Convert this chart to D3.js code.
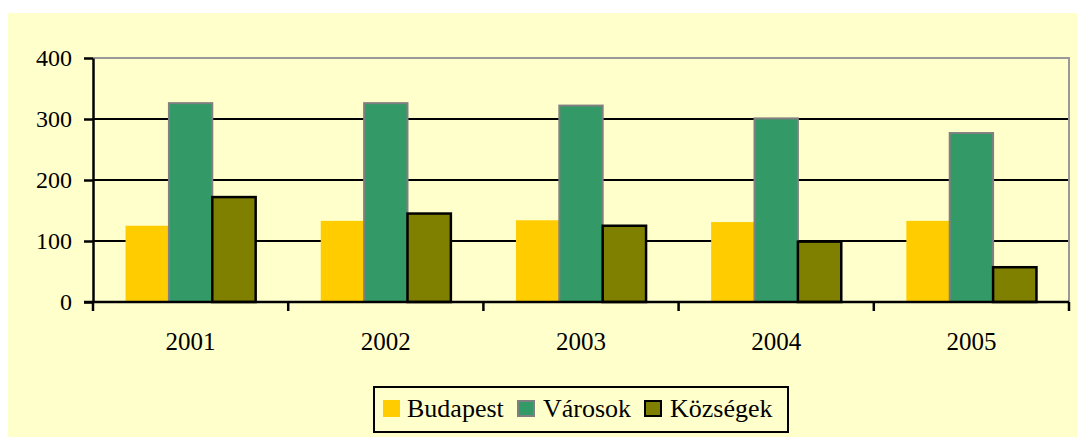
<!DOCTYPE html>
<html>
<head>
<meta charset="utf-8">
<script src="https://cdn.jsdelivr.net/npm/d3@7"></script>
<style>
  body { margin: 0; background: #fff; }
  svg { display: block; }
  svg text { font-family: "Liberation Serif", "Times New Roman", "DejaVu Serif", serif; fill: #000; }
</style>
</head>
<body>
<div id="chart"></div>
<script>
const years = ["2001", "2002", "2003", "2004", "2005"];
const seriesNames = ["Budapest", "Városok", "Községek"];
const budapest = [125, 133, 134, 131, 133];
const varosok = [326, 326, 322, 301, 277];
const kozsegek = [172, 145, 125, 99, 57];
const yTicks = [0, 100, 200, 300, 400];

const colors = ["#FFCC00", "#339966", "#808000"];
const strokes = ["none", "#808080", "#000000"];
const values = [budapest, varosok, kozsegek];
const serif = "Liberation Serif, Times New Roman, serif";

const width = 1077, height = 437;
const plot = { left: 93, right: 1069, top: 58, bottom: 302 };

const svg = d3.select("#chart").append("svg")
  .attr("width", width)
  .attr("height", height);

svg.append("rect")
  .attr("x", 8).attr("y", 13)
  .attr("width", width - 8).attr("height", height - 13)
  .attr("fill", "#FFFFCC");

const x = d3.scaleBand()
  .domain(years)
  .range([plot.left, plot.right])
  .paddingInner(0)
  .paddingOuter(0);

// bars fill 2/3 of each category, gap of half a bar's width... 0.75 bar each side
const xs = d3.scaleBand()
  .domain(seriesNames)
  .range([0, x.bandwidth()])
  .paddingInner(0)
  .paddingOuter(0.75);

const y = d3.scaleLinear()
  .domain([0, 400])
  .range([plot.bottom, plot.top]);

// gridlines
svg.append("g")
  .selectAll("line")
  .data(yTicks.filter(d => d > 0 && d < 400))
  .enter().append("line")
  .attr("x1", plot.left).attr("x2", plot.right)
  .attr("y1", d => y(d)).attr("y2", d => y(d))
  .attr("stroke", "#000").attr("stroke-width", 2);

// plot frame top/right (gray)
svg.append("path")
  .attr("d", `M${plot.left},${y(400)}H${plot.right}V${plot.bottom}`)
  .attr("fill", "none")
  .attr("stroke", "#999999")
  .attr("stroke-width", 2);

// bars
const groups = svg.append("g")
  .selectAll("g")
  .data(years)
  .enter().append("g")
  .attr("transform", d => "translate(" + x(d) + ",0)");

groups.selectAll("rect")
  .data((d, i) => seriesNames.map((s, j) => ({ s: s, j: j, v: values[j][i] })))
  .enter().append("rect")
  .attr("x", d => xs(d.s))
  .attr("y", d => y(d.v))
  .attr("width", xs.bandwidth())
  .attr("height", d => y(0) - y(d.v))
  .attr("fill", d => colors[d.j])
  .attr("stroke", d => strokes[d.j])
  .attr("stroke-width", d => d.j === 2 ? 2.5 : 2);

// y axis
const yAxis = svg.append("g")
  .attr("transform", "translate(" + plot.left + ",0)")
  .call(d3.axisLeft(y).tickValues(yTicks).tickSize(9).tickPadding(12).tickSizeOuter(0));
yAxis.attr("font-family", serif).attr("font-size", 24);
yAxis.select(".domain").attr("stroke", "#000").attr("stroke-width", 2.5);
yAxis.selectAll(".tick line").attr("stroke", "#000").attr("stroke-width", 2.5);
yAxis.selectAll("text")
  .attr("fill", "#000")
  .attr("dy", "0.3em")
  .style("font-size", "24px");

// x axis
svg.append("line")
  .attr("x1", plot.left - 9).attr("x2", plot.right)
  .attr("y1", y(0)).attr("y2", y(0))
  .attr("stroke", "#000").attr("stroke-width", 2.5);

svg.append("g")
  .selectAll("line")
  .data(years.map(d => x(d)).concat([x.range()[1]]))
  .enter().append("line")
  .attr("x1", d => d).attr("x2", d => d)
  .attr("y1", y(0)).attr("y2", y(0) + 9)
  .attr("stroke", "#000").attr("stroke-width", 2.5);

svg.append("g")
  .selectAll("text")
  .data(years)
  .enter().append("text")
  .attr("x", d => x(d) + x.bandwidth() / 2)
  .attr("y", 350)
  .attr("text-anchor", "middle")
  .style("font-size", "25px")
  .text(d => d);

// legend
const legend = svg.append("g");
legend.append("rect")
  .attr("x", 374).attr("y", 387)
  .attr("width", 414).attr("height", 45)
  .attr("fill", "#FFFFCC")
  .attr("stroke", "#000").attr("stroke-width", 2);

const legendX = [383, 517, 644];
const items = legend.selectAll("g.item")
  .data(seriesNames)
  .enter().append("g")
  .attr("class", "item")
  .attr("transform", (d, i) => "translate(" + legendX[i] + ",400)");

items.append("rect")
  .attr("x", (d, i) => i === 0 ? 0 : 1)
  .attr("y", (d, i) => i === 0 ? 0 : 1)
  .attr("width", (d, i) => i === 0 ? 17 : 16)
  .attr("height", (d, i) => i === 0 ? 17 : 15)
  .attr("fill", (d, i) => colors[i])
  .attr("stroke", (d, i) => strokes[i])
  .attr("stroke-width", 2);

items.append("text")
  .attr("x", (d, i) => i === 0 ? 24 : 26)
  .attr("y", 17)
  .style("font-size", "26px")
  .text(d => d);
</script>
</body>
</html>
